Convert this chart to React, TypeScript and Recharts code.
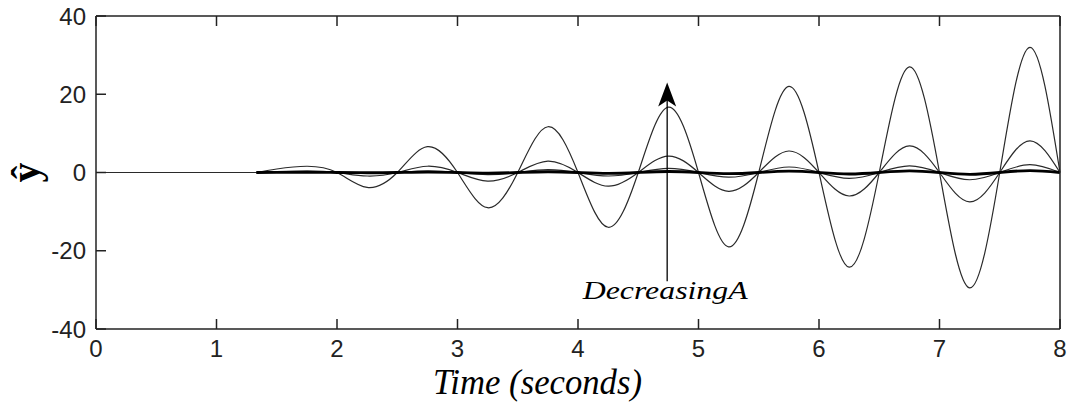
import React from "react";
import {
  LineChart,
  Line,
  XAxis,
  YAxis,
  ReferenceLine,
  ReferenceDot,
} from "recharts";

// sample times (s); curves start moving at ~1.33 s
const time = [
  0, 1.33, 1.5, 1.75, 2, 2.25, 2.5, 2.75, 3, 3.25, 3.5, 3.75, 4, 4.25, 4.5,
  4.75, 5, 5.25, 5.5, 5.75, 6, 6.25, 6.5, 6.75, 7, 7.25, 7.5, 7.75, 8,
];

// flat lead-in before the response starts
const rest = [0, 0, null, null, null, null, null, null, null, null, null, null, null, null, null,
  null, null, null, null, null, null, null, null, null, null, null, null, null, null];

// largest A
const yA1 = [null, 0, 0.9, 1.6, 0, -3.8, 0, 6.6, 0, -9.0, 0, 11.7, 0, -14.0, 0,
  16.7, 0, -19.0, 0, 22.0, 0, -24.2, 0, 27.0, 0, -29.5, 0, 32.0, 0];
const yA2 = [null, 0, 0.2, 0.4, 0, -0.9, 0, 1.6, 0, -2.2, 0, 2.9, 0, -3.5, 0,
  4.2, 0, -4.8, 0, 5.5, 0, -6.0, 0, 6.8, 0, -7.5, 0, 8.1, 0];
const yA3 = [null, 0, 0.05, 0.1, 0, -0.25, 0, 0.4, 0, -0.55, 0, 0.75, 0, -0.9, 0,
  1.05, 0, -1.2, 0, 1.4, 0, -1.5, 0, 1.7, 0, -1.85, 0, 2.0, 0];
// smallest A
const yA4 = [null, 0, 0.01, 0.03, 0, -0.06, 0, 0.1, 0, -0.14, 0, 0.19, 0, -0.23, 0,
  0.26, 0, -0.3, 0, 0.35, 0, -0.38, 0, 0.42, 0, -0.46, 0, 0.5, 0];

const xTicks = [0, 1, 2, 3, 4, 5, 6, 7, 8];
const yTicks = [-40, -20, 0, 20, 40];

const arrowX = 4.74;
const arrowFrom = -27.8;
const arrowTo = 21;
const arrowTip = 23;
const annotation = "DecreasingA";

const data = time.map((t, i) => ({
  t,
  rest: rest[i],
  a1: yA1[i],
  a2: yA2[i],
  a3: yA3[i],
  a4: yA4[i],
}));

const tickFont = {
  fontFamily: "'Liberation Sans', Arial, sans-serif",
  fontSize: 24,
  fill: "#222",
};
const frame = { stroke: "#222", strokeWidth: 1.5 };
const noLabel = () => "";

const curve = { stroke: "#2a2a2a", strokeWidth: 1.2 };

export default function App() {
  return (
    <div style={{ position: "fixed", left: 0, top: 0, background: "#fff" }}>
      <LineChart
        width={1069}
        height={407}
        data={data}
        margin={{ top: 15, right: 8, bottom: 0, left: 0 }}
      >
        {/* inward ticks: negative tickSize */}
        <XAxis
          dataKey="t"
          type="number"
          domain={[0, 8]}
          ticks={xTicks}
          height={78}
          tickSize={-10}
          tickMargin={21}
          tick={tickFont}
          tickLine={frame}
          axisLine={frame}
          label={(p: any) => (
            <text
              x={p.viewBox.x + 441.5}
              y={p.viewBox.y + 65}
              textAnchor="middle"
              fontFamily="'Liberation Serif', 'Times New Roman', serif"
              fontStyle="italic"
              fontSize={36}
              textLength={209}
              lengthAdjust="spacingAndGlyphs"
              fill="#000"
            >
              Time (seconds)
            </text>
          )}
        />
        <XAxis
          xAxisId="top"
          dataKey="t"
          type="number"
          orientation="top"
          domain={[0, 8]}
          ticks={xTicks}
          height={1}
          tickSize={-10}
          tickFormatter={noLabel}
          tickLine={frame}
          axisLine={frame}
        />
        <YAxis
          type="number"
          domain={[-40, 40]}
          ticks={yTicks}
          width={96}
          tickSize={-10}
          tickMargin={20}
          tick={tickFont}
          tickLine={frame}
          axisLine={frame}
          label={(p: any) => (
            <text
              transform={`translate(${p.viewBox.x + 39}, ${p.viewBox.y + p.viewBox.height / 2}) rotate(-90)`}
              textAnchor="middle"
              fontFamily="'Liberation Serif', 'Times New Roman', serif"
              fontWeight="bold"
              fontSize={40}
              fill="#000"
            >
              ŷ
            </text>
          )}
        />
        <YAxis
          yAxisId="right"
          type="number"
          orientation="right"
          domain={[-40, 40]}
          ticks={yTicks}
          width={1}
          tickSize={-10}
          tickFormatter={noLabel}
          tickLine={frame}
          axisLine={frame}
        />

        <Line dataKey="rest" type="linear" dot={false} isAnimationActive={false} {...curve} />
        <Line dataKey="a1" type="natural" dot={false} isAnimationActive={false} {...curve} />
        <Line dataKey="a2" type="natural" dot={false} isAnimationActive={false} {...curve} />
        <Line dataKey="a3" type="natural" dot={false} isAnimationActive={false} {...curve} />
        <Line
          dataKey="a4"
          type="natural"
          dot={false}
          isAnimationActive={false}
          stroke="#000"
          strokeWidth={2.8}
        />

        <ReferenceLine
          segment={[
            { x: arrowX, y: arrowFrom },
            { x: arrowX, y: arrowTo },
          ]}
          stroke="#000"
          strokeWidth={1.3}
        />
        <ReferenceDot
          x={arrowX}
          y={arrowTip}
          r={0}
          shape={(p: any) => (
            <path
              d={`M${p.cx},${p.cy} L${p.cx + 9},${p.cy + 24} L${p.cx},${p.cy + 18} L${p.cx - 9},${p.cy + 24} Z`}
              fill="#000"
            />
          )}
        />
        <ReferenceDot
          x={arrowX}
          y={arrowFrom}
          r={0}
          shape={(p: any) => (
            <text
              x={p.cx - 2}
              y={p.cy + 18}
              textAnchor="middle"
              fontFamily="'Liberation Serif', 'Times New Roman', serif"
              fontStyle="italic"
              fontSize={26}
              textLength={165}
              lengthAdjust="spacingAndGlyphs"
              fill="#000"
            >
              {annotation}
            </text>
          )}
        />
      </LineChart>
    </div>
  );
}
